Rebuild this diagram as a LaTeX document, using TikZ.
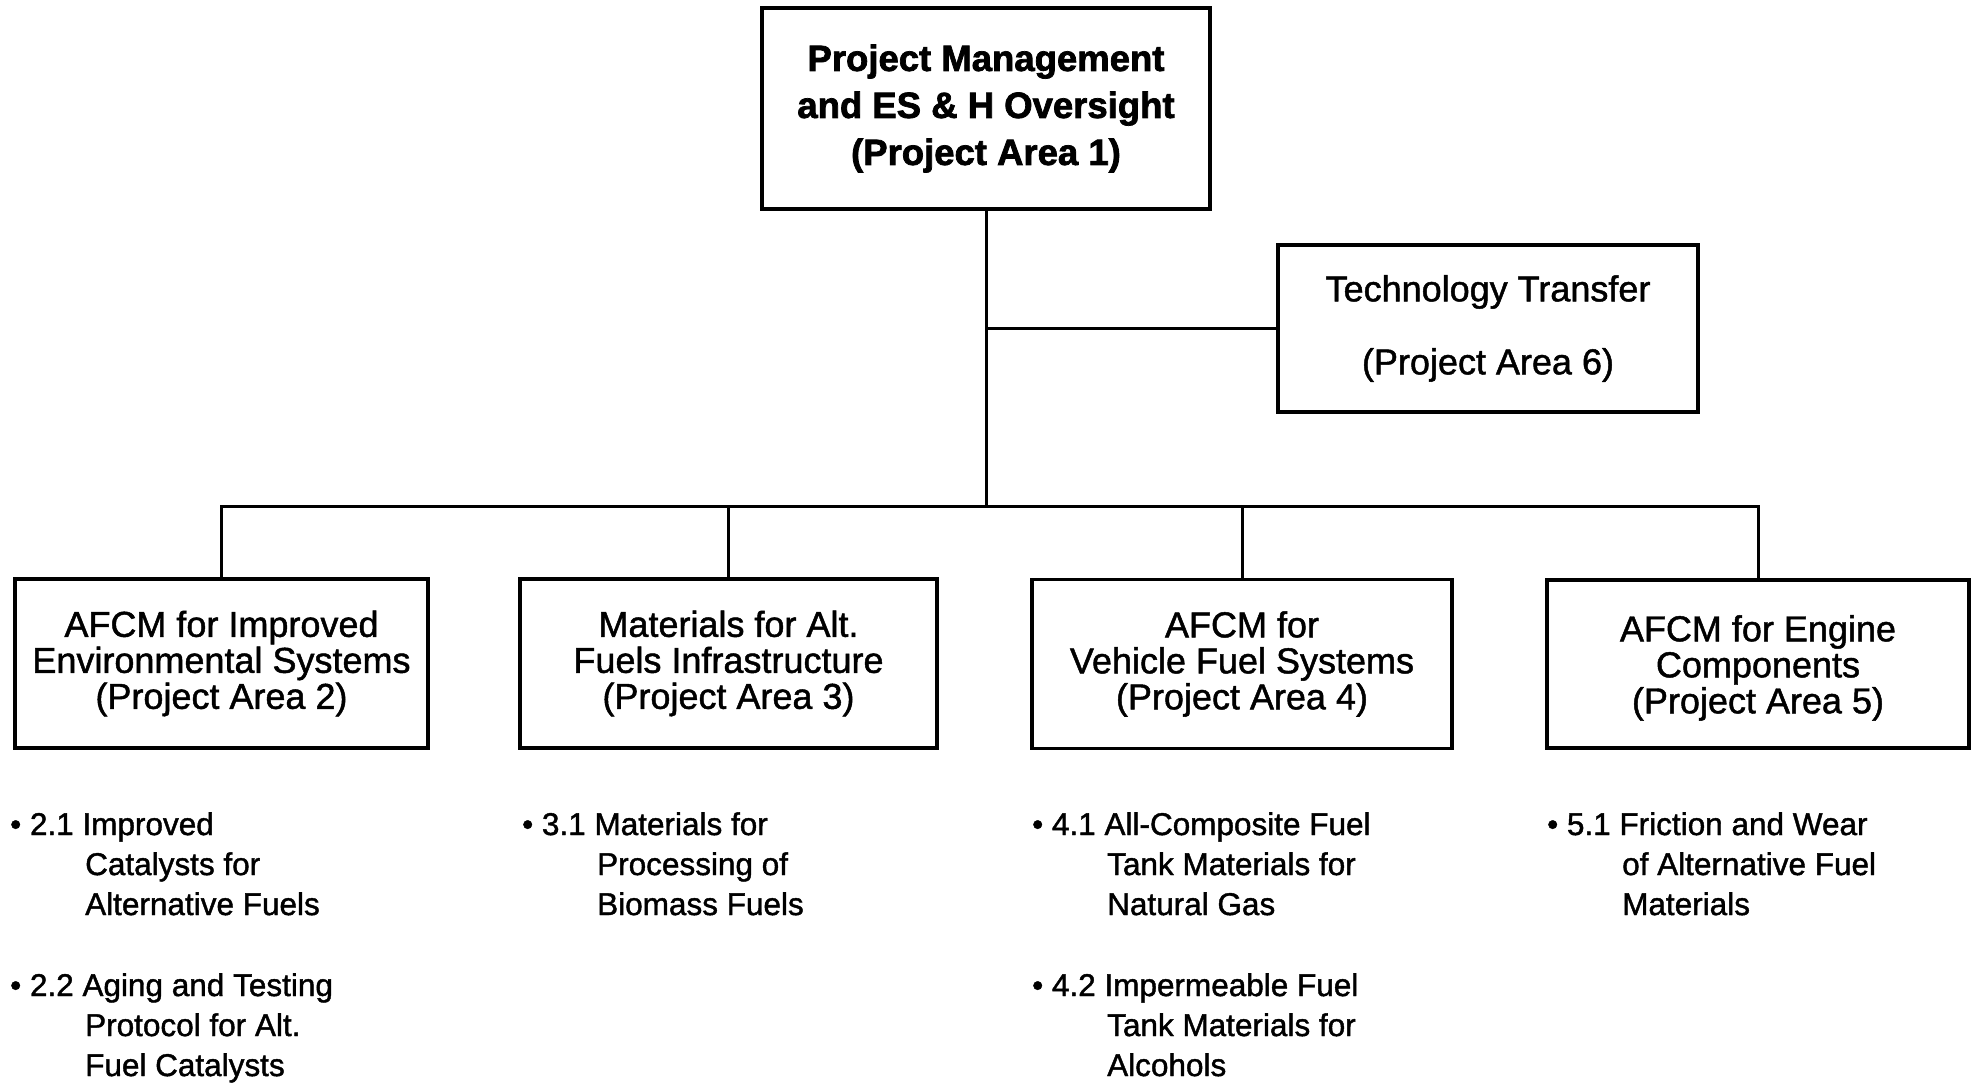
\documentclass[tikz,border=0pt]{standalone}
\usepackage{fontspec}
\setmainfont{Liberation Sans}
% heavier faces for the scanned-print look
\newfontfamily\plainface[FakeBold=1.3]{Liberation Sans}
\newfontfamily\headface[UprightFont=* Bold, FakeBold=2]{Liberation Sans}
\newcommand\subline{\hspace*{75bp}}
\begin{document}
\begin{tikzpicture}[x=1bp,y=-1bp,
  box/.style={draw, line width=3.5bp, rectangle, inner sep=0pt, align=center},
  areatext/.style={font=\plainface\fontsize{36bp}{36bp}\selectfont},
  item/.style={anchor=north west, inner sep=0pt, align=left,
    font=\plainface\fontsize{31.5bp}{40bp}\selectfont},
  link/.style={line width=3bp, line join=miter}]
\useasboundingbox (0,0) rectangle (1985,1083);
\fill[white] (0,0) rectangle (1985,1083);

% management box and technology transfer
\node[box, minimum width=448bp, minimum height=201bp,
  font=\headface\fontsize{36.5bp}{47bp}\selectfont] (pa1) at (986,108.5)
  {Project Management\\and ES \& H Oversight\\(Project Area 1)};
\node[box, minimum width=420bp, minimum height=167bp,
  font=\plainface\fontsize{36bp}{73bp}\selectfont] (pa6) at (1488,328.5)
  {Technology Transfer\\(Project Area 6)};

% the four technical project areas
\node[box, areatext, minimum width=413bp, minimum height=169bp] (pa2) at (221.5,663.5)
  {AFCM for Improved\\Environmental Systems\\(Project Area 2)};
\node[box, areatext, minimum width=417bp, minimum height=169bp] (pa3) at (728.5,663.5)
  {Materials for Alt.\\Fuels Infrastructure\\(Project Area 3)};
\node[box, areatext, minimum width=420bp, minimum height=169bp] (pa4) at (1242,664)
  {AFCM for\\Vehicle Fuel Systems\\(Project Area 4)};
\node[box, areatext, minimum width=422bp, minimum height=168bp] (pa5) at (1758,664)
  {\rule{0pt}{34bp}AFCM for Engine\\Components\\(Project Area 5)};

% connectors
\coordinate (hub) at (986,506);
\draw[link] (pa1.south) -- (hub);
\draw[link] (pa6.west) -- (pa6.west -| pa1.south);
\draw[link] (pa2.north) -- (pa2.north |- hub) -- (pa5.north |- hub) -- (pa5.north);
\draw[link] (pa3.north) -- (pa3.north |- hub);
\draw[link] (pa4.north) -- (pa4.north |- hub);

% task lists
\node[item] (t21) at (10,812)
  {\textbullet\ 2.1 Improved\\\subline Catalysts for\\\subline Alternative Fuels};
\node[item] (t22) at (10,973)
  {\textbullet\ 2.2 Aging and Testing\\\subline Protocol for Alt.\\\subline Fuel Catalysts};
\node[item] (t31) at (522,812)
  {\textbullet\ 3.1 Materials for\\\subline Processing of\\\subline Biomass Fuels};
\node[item] (t41) at (1032,812)
  {\textbullet\ 4.1 All-Composite Fuel\\\subline Tank Materials for\\\subline Natural Gas};
\node[item] (t42) at (1032,973)
  {\textbullet\ 4.2 Impermeable Fuel\\\subline Tank Materials for\\\subline Alcohols};
\node[item] (t51) at (1547,812)
  {\textbullet\ 5.1 Friction and Wear\\\subline of Alternative Fuel\\\subline Materials};
\end{tikzpicture}
\end{document}
